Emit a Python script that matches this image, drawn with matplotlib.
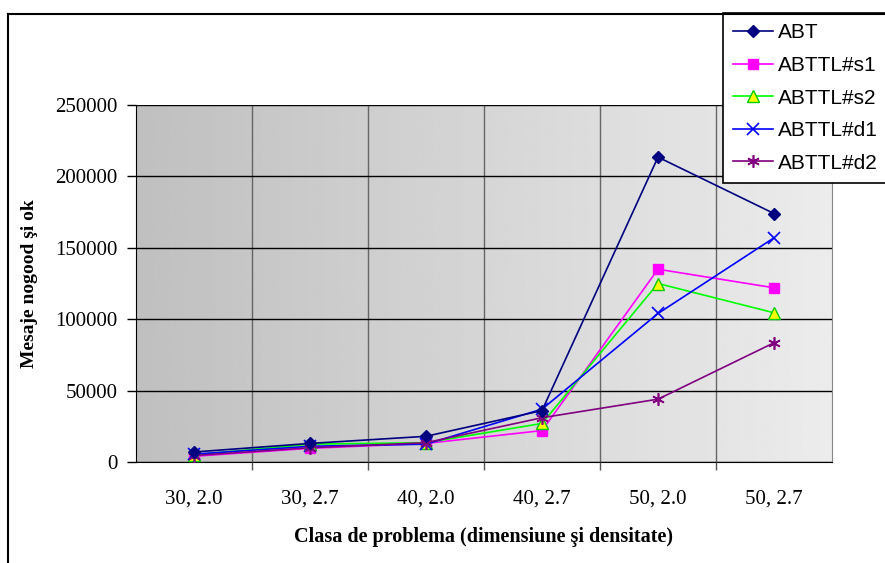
import numpy as np
import matplotlib.pyplot as plt
from matplotlib.lines import Line2D

categories = ["30, 2.0", "30, 2.7", "40, 2.0", "40, 2.7", "50, 2.0", "50, 2.7"]
abt = [7000, 13000, 18000, 36000, 213500, 174000]
abttl_s1 = [4000, 9600, 13000, 22000, 135000, 122000]
abttl_s2 = [5000, 12500, 13500, 27000, 125000, 104500]
abttl_d1 = [5500, 11000, 12500, 37000, 104000, 157000]
abttl_d2 = [4500, 10000, 13500, 31000, 44000, 83500]
yticks = [0, 50000, 100000, 150000, 200000, 250000]

serif = "Liberation Serif"
sans = "Liberation Sans"

fig = plt.figure(figsize=(8.85, 5.63), dpi=100)
ax = fig.add_axes([136 / 885, 1 - 462 / 563, 696 / 885, 357 / 563])

x = np.arange(len(categories))

# grey gradient behind the plot, darker on the left
grad = np.linspace(0.75, 0.925, 256).reshape(1, -1)
ax.imshow(grad, cmap="gray", vmin=0, vmax=1, aspect="auto",
          extent=[-0.5, 5.5, 0, 250000], zorder=0)

ax.plot(x, abt, color="#000080", marker="D", markersize=6, lw=1.2,
        markerfacecolor="#000080", label="ABT", zorder=5)
ax.plot(x, abttl_s1, color="#ff00ff", marker="s", markersize=7, lw=1.2,
        label="ABTTL#s1", zorder=4)
ax.plot(x, abttl_s2, color="#00ff00", marker="^", markersize=8, lw=1.2,
        markerfacecolor="#ffff00", markeredgecolor="#00cc00", label="ABTTL#s2", zorder=4)
ax.plot(x, abttl_d1, color="#0000ff", marker="x", markersize=8, lw=1.2,
        markeredgewidth=1.2, label="ABTTL#d1", zorder=4)
ax.plot(x, abttl_d2, color="#800080", marker=(6, 2, 0), markersize=9, lw=1.2,
        markeredgewidth=1.2, label="ABTTL#d2", zorder=4)

ax.set_xlim(-0.5, 5.5)
ax.set_ylim(0, 250000)

ax.set_yticks(yticks)
ax.set_yticklabels([str(v) for v in yticks], fontfamily=serif, fontsize=15)
ax.yaxis.grid(True, color="black", lw=1)

# category boundaries carry the ticks and grid, centres carry the labels
ax.set_xticks(np.arange(0.5, 5.5, 1.0))
ax.set_xticklabels([])
ax.set_xticks(x, minor=True)
ax.set_xticklabels(categories, minor=True, fontfamily=serif, fontsize=15)
ax.tick_params(axis="x", which="minor", length=0, pad=20)
ax.tick_params(axis="x", which="major", length=6, width=1, color="#555555", direction="out")
ax.tick_params(axis="y", length=6.5, width=1, direction="out", pad=7)
ax.xaxis.grid(True, which="major", color="#666666", lw=1)
ax.set_axisbelow(False)
for g in ax.get_xgridlines() + ax.get_ygridlines():
    g.set_zorder(1)

ax.spines["top"].set_visible(False)
ax.spines["right"].set_color("#888888")
ax.spines["left"].set_color("black")
ax.spines["bottom"].set_color("black")

ax.set_ylabel("Mesaje nogood şi ok", fontfamily=serif, fontsize=14,
              fontweight="bold", labelpad=12)
ax.set_xlabel("Clasa de problema (dimensiune şi densitate)", fontfamily=serif,
              fontsize=14.5, fontweight="bold", labelpad=13)

# outer chart frame
fig.add_artist(Line2D([8 / 885, 8 / 885], [0, 1 - 13.5 / 563], color="black", lw=1.5))
fig.add_artist(Line2D([8 / 885, 1], [1 - 13.5 / 563, 1 - 13.5 / 563], color="black", lw=1.5))

leg = ax.legend(loc="upper left", bbox_to_anchor=(723 / 885, 1 - 13 / 563),
                bbox_transform=fig.transFigure, frameon=True, fancybox=False,
                edgecolor="black", facecolor="white", framealpha=1,
                prop={"family": sans, "size": 15}, borderpad=0.5,
                labelspacing=0.65, handlelength=1.9, handletextpad=0.25,
                borderaxespad=0)
leg.get_frame().set_linewidth(1.2)

fig.savefig("out.png", dpi=100)
